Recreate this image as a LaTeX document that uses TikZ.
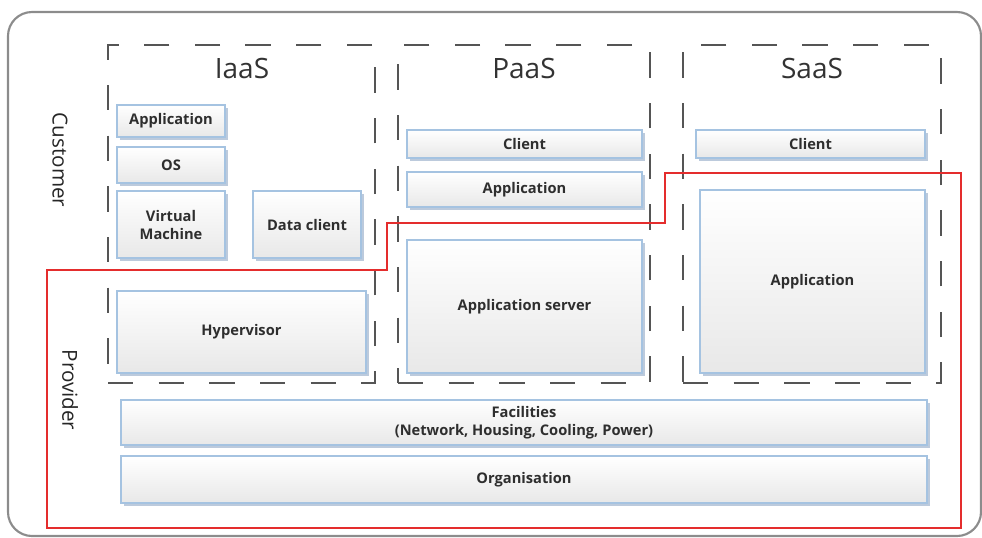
\documentclass[tikz,border=0pt]{standalone}
\usepackage{fontspec}
\setmainfont{Open Sans}
\usetikzlibrary{positioning, fit, shadows}
\definecolor{boxblue}{RGB}{165,195,225}
\definecolor{boxgrey}{RGB}{232,232,232}
\definecolor{shadowblue}{RGB}{188,202,220}
\definecolor{dashgrey}{RGB}{85,85,85}
\definecolor{framegrey}{RGB}{140,140,140}
\definecolor{provred}{RGB}{228,45,45}

\begin{document}
\begin{tikzpicture}[x=0.75pt, y=-0.75pt,
		layer/.style 2 args={shape=rectangle, draw=boxblue, line width=0.8pt, top color=white, bottom color=boxgrey, inner sep=0pt, minimum width=#1*0.75pt, minimum height=#2*0.75pt, font=\bfseries\fontsize{11}{13.5}\selectfont, text=black!82, align=center, drop shadow={shadow xshift=2.2pt, shadow yshift=-2.2pt, fill=shadowblue, opacity=1}},
		tier/.style={shape=rectangle, draw=dashgrey, line width=1.5pt, dash pattern=on 19pt off 19pt, inner sep=0pt},
		tiername/.style={font=\fontsize{21}{24}\selectfont, text=black!80},
		side/.style={font=\fontsize{15.5}{18}\selectfont, text=black!85, rotate=-90}]
		\useasboundingbox (0,0) rectangle (982,537);
		
		% frame
		\draw[framegrey, line width=1.6pt, rounded corners=18pt] (8,12) rectangle (981,536);
		\node[side] (cust) at (60,160) {Customer};
		\node[side] (prov) at (70,390) {Provider};
		
		% IaaS
		\node[tier, fit={(108,45) (375,383)}] (iaas) {};
		\node[tiername] (iaast) at (242,68) {IaaS};
		\node[layer={108}{32}] (iapp) at (171,121) {Application};
		\node[layer={108}{36}] (ios) at (171,165) {OS};
		\node[layer={108}{67}] (ivm) at (171,224.5) {Virtual\\Machine};
		\node[layer={108}{67}] (idata) at (307,224.5) {Data client};
		\node[layer={249}{82}] (ihyp) at (241.5,332) {Hypervisor};
		
		% PaaS
		\node[tier, fit={(398,45) (650,383)}] (paas) {};
		\node[tiername] (paast) at (524,68) {PaaS};
		\node[layer={235}{28}] (pclient) at (524.5,144) {Client};
		\node[layer={235}{35}] (papp) at (524.5,189.5) {Application};
		\node[layer={235}{133}] (pserver) at (524.5,306.5) {Application server};
		
		% SaaS
		\node[tier, fit={(683,45) (941,383)}] (saas) {};
		\node[tiername] (saast) at (812,68) {SaaS};
		\node[layer={229}{28}] (sclient) at (810.5,144) {Client};
		\node[layer={225}{183}] (sapp) at (812.5,281.5) {Application};
		
		% shared layers
		\node[layer={806}{45}] (fac) at (524,422.5) {Facilities\\(Network, Housing, Cooling, Power)};
		\node[layer={806}{47}] (org) at (524,479.5) {Organisation};
		
		% provider border
		\draw[provred, line width=1.2pt] (47,270) -- (387,270) -- (387,223) -- (665,223) -- (665,173) -- (961,173) -- (961,528) -- (47,528) -- cycle;
	\end{tikzpicture}
\end{document}
